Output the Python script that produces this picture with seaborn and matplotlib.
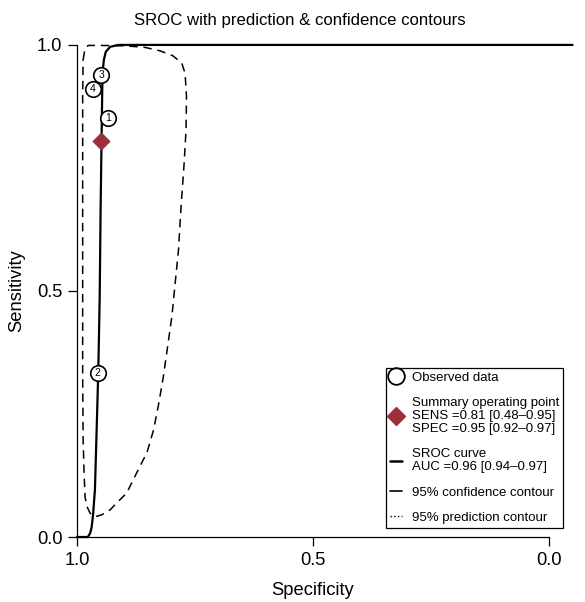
import matplotlib
matplotlib.use("Agg")
import matplotlib.pyplot as plt
from matplotlib.lines import Line2D
import seaborn as sns
import pandas as pd

#%%
# Data
study_ids = ["1", "2", "3", "4"]
study_spec = [0.935, 0.956, 0.949, 0.967]
study_sens = [0.852, 0.333, 0.939, 0.910]

summary_spec = [0.949]
summary_sens = [0.805]

sroc_spec = [1.000, 0.977, 0.972, 0.969, 0.966, 0.962, 0.959, 0.955, 0.952,
             0.950, 0.948, 0.946, 0.943, 0.939, 0.930, 0.913, 0.000]
sroc_sens = [0.000, 0.000, 0.008, 0.020, 0.045, 0.096, 0.197, 0.333, 0.482,
             0.665, 0.807, 0.943, 0.970, 0.986, 0.996, 1.000, 1.000]

pred_spec = [0.987, 0.983, 0.976, 0.951, 0.895, 0.856, 0.824, 0.797, 0.778,
             0.771, 0.768, 0.769, 0.773, 0.780, 0.785, 0.792, 0.799, 0.807,
             0.817, 0.828, 0.838, 0.852, 0.867, 0.895, 0.916, 0.930, 0.948,
             0.962, 0.972, 0.979, 0.983, 0.985, 0.987, 0.988, 0.988, 0.988]
pred_sens = [0.970, 0.993, 0.999, 0.999, 0.998, 0.995, 0.988, 0.978, 0.963,
             0.942, 0.895, 0.827, 0.760, 0.665, 0.583, 0.516, 0.448, 0.394,
             0.326, 0.265, 0.217, 0.171, 0.143, 0.089, 0.069, 0.055, 0.045,
             0.041, 0.048, 0.062, 0.082, 0.130, 0.197, 0.333, 0.665, 0.895]

legend_labels = ["Observed data",
                 "Summary operating point\nSENS =0.81 [0.48\u20130.95]\nSPEC =0.95 [0.92\u20130.97]",
                 "SROC curve\nAUC =0.96 [0.94\u20130.97]",
                 "95% confidence contour",
                 "95% prediction contour"]

diamond_color = "#9E2F38"

#%%
sns.set_theme(style="ticks")
plt.rcParams["font.family"] = ["Liberation Sans", "DejaVu Sans"]
plt.rcParams["text.color"] = "black"
plt.rcParams["axes.labelcolor"] = "black"
plt.rcParams["xtick.color"] = "black"
plt.rcParams["ytick.color"] = "black"
plt.rcParams["axes.edgecolor"] = "black"

fig = plt.figure(figsize=(5.85, 6.02), dpi=100)
ax = fig.add_axes([77 / 585, 65 / 602, 495.6 / 585, 497 / 602])
ax.set_xlim(1.0, -0.05)
ax.set_ylim(0.0, 1.01)

# prediction contour (closed)
pred = pd.DataFrame({"spec": pred_spec + pred_spec[:1], "sens": pred_sens + pred_sens[:1]})
sns.lineplot(data=pred, x="spec", y="sens", sort=False, estimator=None, ax=ax,
             color="black", linewidth=1.1)
ax.lines[-1].set_dashes([5.5, 3.8])

# SROC curve, extended to the right edge of the plot region
xr = ax.get_xlim()[1]
sroc = pd.DataFrame({"spec": sroc_spec + [xr], "sens": sroc_sens + sroc_sens[-1:]})
sns.lineplot(data=sroc, x="spec", y="sens", sort=False, estimator=None, ax=ax,
             color="black", linewidth=1.6)
ax.lines[-1].set_clip_on(False)

# observed studies
studies = pd.DataFrame({"spec": study_spec, "sens": study_sens, "id": study_ids})
sns.scatterplot(data=studies, x="spec", y="sens", ax=ax, marker="o", s=125,
                facecolor="white", edgecolor="black", linewidth=1.2, zorder=4)
for _, r in studies.iterrows():
    ax.text(r["spec"], r["sens"], r["id"], ha="center", va="center",
            fontsize=7.5, zorder=5)

# summary point
sns.scatterplot(x=summary_spec, y=summary_sens, ax=ax, marker="D", s=75,
                color=diamond_color, edgecolor=diamond_color, zorder=6)

#%%
# axes styling
sns.despine(ax=ax)
ax.spines["left"].set_bounds(0, 1)
ax.spines["bottom"].set_bounds(0, 1)
ax.spines["left"].set_linewidth(0.9)
ax.spines["bottom"].set_linewidth(0.9)
ax.set_xticks([1.0, 0.5, 0.0])
ax.set_xticklabels(["1.0", "0.5", "0.0"])
ax.set_yticks([0.0, 0.5, 1.0])
ax.set_yticklabels(["0.0", "0.5", "1.0"])
ax.tick_params(axis="both", length=6.5, width=0.9, labelsize=13.2, pad=4)
ax.set_xlabel("Specificity", fontsize=13.2)
ax.set_ylabel("Sensitivity", fontsize=13.2)
ax.xaxis.set_label_coords((1.0 - 0.5) / 1.05, -0.09)
ax.yaxis.set_label_coords(-0.104, 0.5 / 1.01)

fig.text(300 / 585, 1 - 20 / 602, "SROC with prediction & confidence contours",
         ha="center", va="center", fontsize=12.1)

handles = [
    Line2D([], [], ls="none", marker="o", mfc="none", mec="black", markersize=12, mew=1.3),
    Line2D([], [], ls="none", marker="D", color=diamond_color, markersize=9.5),
    Line2D([], [], ls="-", color="black", lw=1.8),
    Line2D([], [], ls="-", color="black", lw=1.2),
    Line2D([], [], ls=":", color="black", lw=1.0),
]
leg = ax.legend(handles, legend_labels, loc="lower right",
                bbox_to_anchor=(563 / 585, 74 / 602), bbox_transform=fig.transFigure,
                fontsize=9.5, frameon=True, fancybox=False, framealpha=1,
                edgecolor="black", borderpad=0.3, handlelength=0.9,
                handletextpad=0.75, labelspacing=1.0, borderaxespad=0)
leg.get_frame().set_linewidth(0.9)
for t in leg.get_texts():
    t.set_linespacing(1.1)

fig.savefig("out.png", dpi=100)
